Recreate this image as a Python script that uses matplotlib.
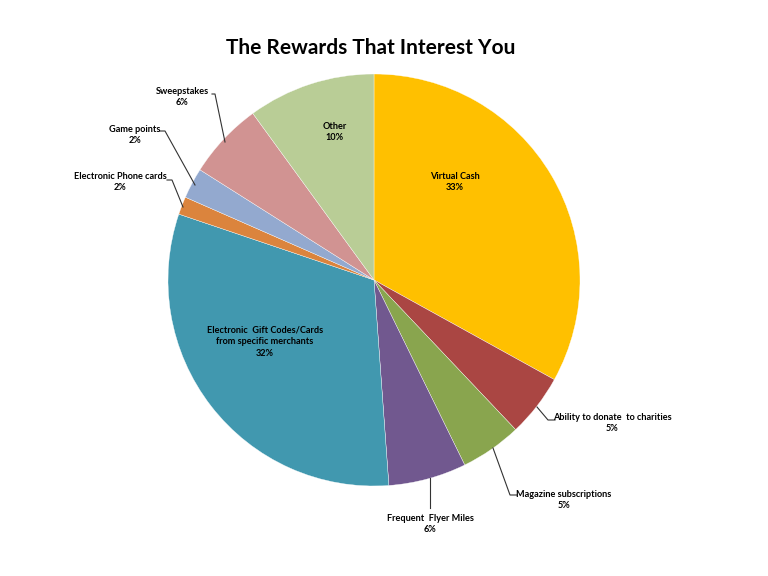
import matplotlib.pyplot as plt

plt.rcParams['font.family'] = ['Lato', 'DejaVu Sans']

# slices, clockwise from 12 o'clock
categories = ['Virtual Cash', 'Ability to donate  to charities', 'Magazine subscriptions',
              'Frequent  Flyer Miles', 'Electronic  Gift Codes/Cards\nfrom specific merchants',
              'Electronic Phone cards', 'Game points', 'Sweepstakes', 'Other']
shares = [33.0, 4.9, 4.8, 6.1, 31.3, 1.4, 2.4, 6.0, 10.0]
pct_labels = ['33%', '5%', '5%', '6%', '32%', '2%', '2%', '6%', '10%']
colors = ['#FFC000', '#AA4643', '#89A54E', '#71588F', '#4198AF',
          '#DB843D', '#93A9CF', '#D19392', '#B9CD96']

# layout in pixels (figure is 768x576): pie centre and radius
cx, cy, r = 374, 280, 206


def px(x, y):
    return (x - cx) / r, (cy - y) / r


# label text centre, leader line points (pixels)
label_pos = [
    ((455, 182), None),
    ((612, 423), [(537, 407), (548, 420), (555, 420)]),
    ((564, 500), [(493, 448), (510, 495), (517, 495)]),
    ((430, 524), [(430, 478), (430, 508)]),
    ((265, 342), None),
    ((120, 182), [(183, 207), (172, 180), (167, 180)]),
    ((135, 135), [(195, 185), (165, 131), (160, 131)]),
    ((182, 97), [(225, 142), (215, 94), (212, 94)]),
    ((335, 132), None),
]

fig = plt.figure(figsize=(7.68, 5.76), dpi=100)
ax = fig.add_axes([(cx - r) / 768, (576 - cy - r) / 576, 2 * r / 768, 2 * r / 576])

ax.pie(shares, colors=colors, startangle=90, counterclock=False, radius=1,
       wedgeprops=dict(edgecolor='white', linewidth=0.25))
ax.set_xlim(-1, 1)
ax.set_ylim(-1, 1)
ax.set_aspect('equal')
ax.axis('off')

for name, pct, (pos, line) in zip(categories, pct_labels, label_pos):
    tx, ty = px(*pos)
    ax.text(tx, ty, name + '\n' + pct, ha='center', va='center', fontsize=6.6,
            fontweight='bold', linespacing=1.4, clip_on=False)
    if line:
        pts = [px(*p) for p in line]
        ax.plot([p[0] for p in pts], [p[1] for p in pts], color='#333333',
                linewidth=0.8, clip_on=False)

fig.text(371 / 768, 1 - 48 / 576, 'The Rewards That Interest You', ha='center',
         va='center', fontsize=15, fontweight='bold')

fig.savefig('out.png', dpi=100)
